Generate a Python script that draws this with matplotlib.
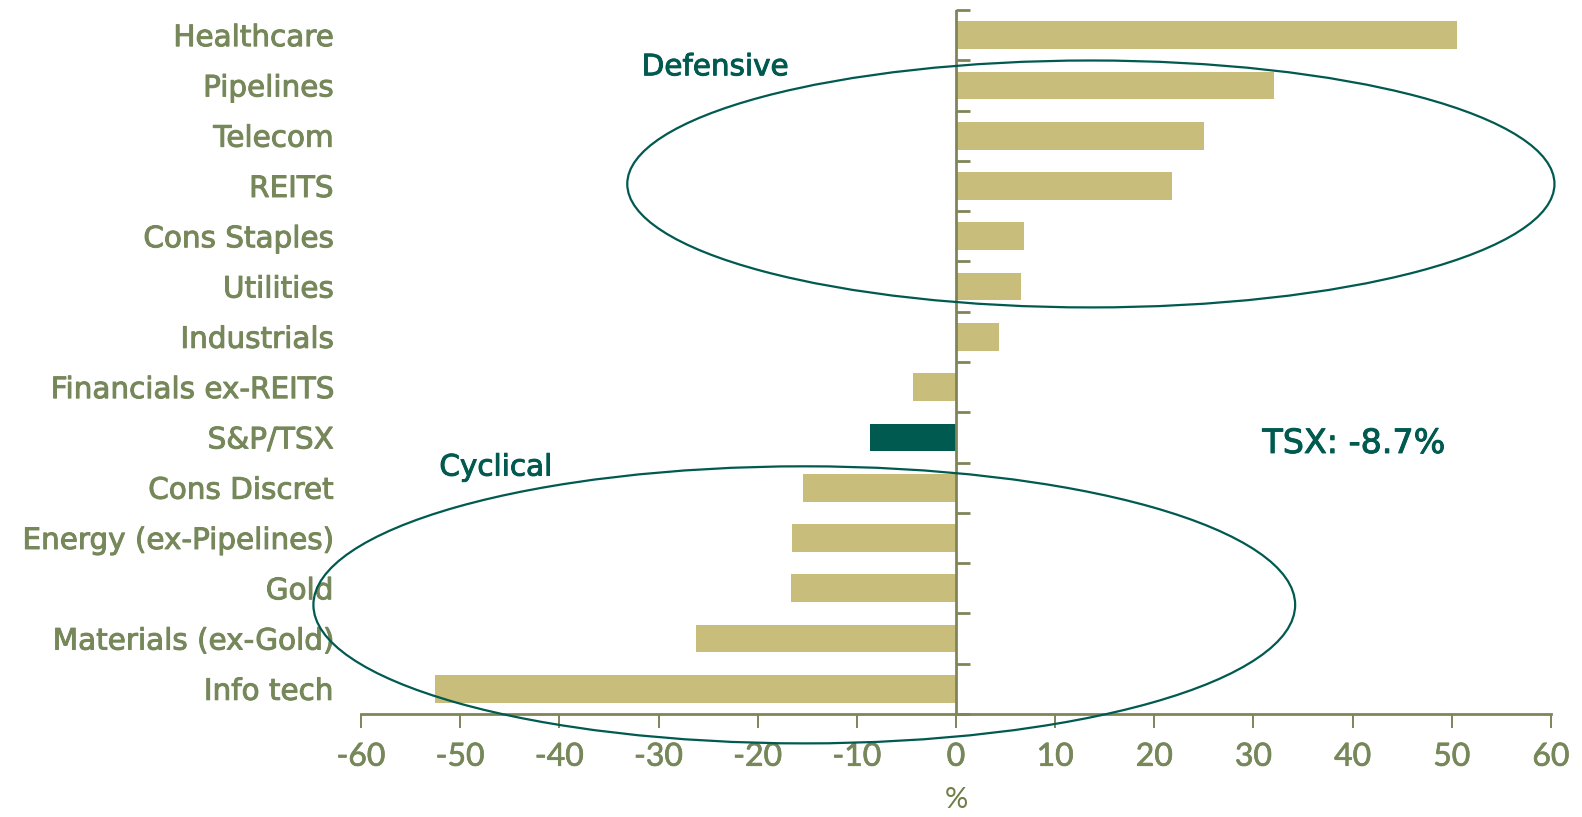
import matplotlib
matplotlib.use("Agg")
import matplotlib.pyplot as plt
import matplotlib.patheffects as pe
from matplotlib.patches import Ellipse

# Sector returns (%)
sectors = ["Healthcare", "Pipelines", "Telecom", "REITS", "Cons Staples", "Utilities",
           "Industrials", "Financials ex-REITS", "S&P/TSX", "Cons Discret",
           "Energy (ex-Pipelines)", "Gold", "Materials (ex-Gold)", "Info tech"]
returns = [50.5, 32.1, 25.0, 21.8, 6.9, 6.6, 4.3, -4.3, -8.7, -15.4, -16.5, -16.6, -26.2, -52.5]
highlight = "S&P/TSX"
x_ticks = list(range(-60, 61, 10))

TAN = "#C9BD7C"
TEAL = "#005A50"
OLIVE = "#76875A"
AXIS = "#808558"

plt.rcParams["font.family"] = ["DejaVu Sans"]
NUM_FONT = ["Lato", "DejaVu Sans"]


def thicken(color, width=0.7):
    # slightly heavier strokes for a medium-weight look
    return [pe.Stroke(linewidth=width, foreground=color), pe.Normal()]


fig = plt.figure(figsize=(15.82, 8.17), dpi=100)
ax = fig.add_axes([0.2282, 0.1261, 0.7522, 0.8617])

ypos = list(range(len(sectors)))
colors = [TEAL if s == highlight else TAN for s in sectors]
ax.barh(ypos, returns, height=0.55, color=colors, zorder=2)

ax.set_xlim(-60, 60)
ax.set_ylim(len(sectors) - 0.5, -0.5)

# category labels on the left
ax.set_yticks(ypos)
ax.set_yticklabels(sectors, fontsize=21.2, color=OLIVE)
ax.tick_params(axis="y", length=0, pad=20)
for lbl in ax.get_yticklabels():
    lbl.set_path_effects(thicken(OLIVE))

ax.set_xticks(x_ticks)
ax.set_xticklabels([str(v) for v in x_ticks], fontsize=23, color=OLIVE, family=NUM_FONT)
ax.tick_params(axis="x", direction="out", length=10, width=1.4, color=AXIS, pad=10)
for lbl in ax.get_xticklabels():
    lbl.set_path_effects(thicken(OLIVE, 0.5))
ax.set_xlabel("%", fontsize=21, color="#6E7E45", labelpad=11, family=NUM_FONT)

for side in ["left", "right", "top"]:
    ax.spines[side].set_visible(False)
ax.spines["bottom"].set_color(AXIS)
ax.spines["bottom"].set_linewidth(2)

# vertical zero axis with ticks between categories
ax.axvline(0, color=AXIS, linewidth=2, zorder=3)
zero_axis = ax.secondary_yaxis(0.5)
for sp in zero_axis.spines.values():
    sp.set_visible(False)
zero_axis.set_yticks([i - 0.5 for i in range(len(sectors) + 1)])
zero_axis.set_yticklabels([])
zero_axis.tick_params(axis="y", direction="out", length=10, width=2, color=AXIS)

# group outlines
ax.add_patch(Ellipse((13.6, 2.96), 93.5, 4.91, fill=False, edgecolor=TEAL,
                     linewidth=1.6, clip_on=False, zorder=4))
ax.add_patch(Ellipse((-15.3, 11.33), 99.0, 5.51, fill=False, edgecolor=TEAL,
                     linewidth=1.6, clip_on=False, zorder=4))

for x, y, s, size in [(-31.7, 0.64, "Defensive", 21.2),
                      (-52.1, 8.6, "Cyclical", 21.2),
                      (30.9, 8.12, "TSX: -8.7%", 24)]:
    ax.text(x, y, s, fontsize=size, color=TEAL, ha="left", va="center",
            path_effects=thicken(TEAL))

fig.savefig("out.png", dpi=100)
